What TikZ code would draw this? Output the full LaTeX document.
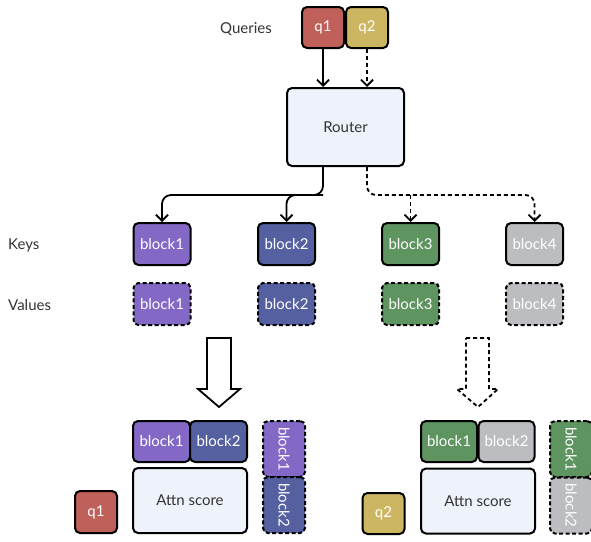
\documentclass[tikz,border=0pt]{standalone}
\usepackage{fontspec}
\setmainfont{Lato}
\usetikzlibrary{arrows.meta}
\definecolor{cq1}{HTML}{C0605A}
\definecolor{cq2}{HTML}{CDB662}
\definecolor{cb1}{HTML}{8468C6}
\definecolor{cb2}{HTML}{5560A0}
\definecolor{cb3}{HTML}{5E9460}
\definecolor{cb4}{HTML}{BBBDC0}
\definecolor{cpale}{HTML}{EEF2FB}
\definecolor{ctext}{HTML}{333333}
\tikzset{
  box/.style={draw=black, line width=2pt, rounded corners=5pt, inner sep=0pt,
    text=white, font=\fontsize{15}{17}\selectfont},
  kbox/.style={box, minimum width=57pt, minimum height=42pt},
  vbox/.style={kbox, dash pattern=on 4pt off 2.5pt},
  qbox/.style={box, minimum width=42pt, minimum height=41pt},
  palebox/.style={box, fill=cpale, text=ctext},
  rbox/.style={box, dash pattern=on 4pt off 2.5pt, minimum width=42pt, minimum height=56pt},
  lbl/.style={text=ctext, font=\fontsize{15}{17}\selectfont, inner sep=0pt},
  flow/.style={line width=1.8pt, -{Straight Barb[length=6pt, width=12pt, line width=1.8pt]}},
  dflow/.style={flow, dash pattern=on 4pt off 3pt},
  fat/.style={draw=black, line width=1.8pt, fill=white, line join=miter},
}
\begin{document}
\begin{tikzpicture}[x=1pt, y=-1pt]
\useasboundingbox (0,0) rectangle (591,541);

% queries and router
\node[lbl] (qlabel) at (246,29) {Queries};
\node[qbox, fill=cq1] (q1) at (323,27.5) {q1};
\node[qbox, fill=cq2] (q2) at (367,27.5) {q2};
\node[palebox, minimum width=117pt, minimum height=78pt] (router) at (345.5,127) {Router};
\draw[flow] (q1.south) -- (q1.south |- router.north);
\draw[dflow] (q2.south) -- (q2.south |- router.north);

% keys and values
\node[lbl, anchor=west] (keys) at (8,245) {Keys};
\node[lbl, anchor=west] (vals) at (8,305) {Values};
\node[kbox, fill=cb1] (k1) at (162,244) {block1};
\node[kbox, fill=cb2] (k2) at (286.5,244) {block2};
\node[kbox, fill=cb3] (k3) at (410.5,244) {block3};
\node[kbox, fill=cb4] (k4) at (534.5,244) {block4};
\node[vbox, fill=cb1] (v1) at (162,304) {block1};
\node[vbox, fill=cb2] (v2) at (286.5,304) {block2};
\node[vbox, fill=cb3] (v3) at (410.5,304) {block3};
\node[vbox, fill=cb4] (v4) at (534.5,304) {block4};

% routing
\coordinate (hy) at (0,195);
\draw[flow, rounded corners=9pt] (router.south -| q1) -- (q1 |- hy) -| (k1.north);
\draw[flow, rounded corners=9pt] (q1 |- hy) -| (k2.north);
\draw[dflow, rounded corners=9pt] (router.south -| q2) -- (q2 |- hy) -| (k4.north);
\draw[dflow] (k3.north |- hy) -- (k3.north);

% big down arrows
\draw[fat] (207,338) -- (231,338) -- (231,389) -- (240,389) -- (219,407) -- (198,389) -- (207,389) -- cycle;
\draw[fat, dash pattern=on 4pt off 3pt] (466,338) -- (489,338) -- (489,389) -- (498,389) -- (478,407) -- (457,389) -- (466,389) -- cycle;

% attention for q1
\node[kbox, minimum height=41pt, fill=cb1] (a1) at (161.5,441.5) {block1};
\node[kbox, minimum height=41pt, fill=cb2] (a2) at (218.5,441.5) {block2};
\node[palebox, minimum width=114pt, minimum height=65pt] (s1) at (190,500.5) {Attn score};
\node[rbox, fill=cb1] (w1) at (284,449) {\rotatebox{-90}{block1}};
\node[rbox, fill=cb2] (w2) at (284,505) {\rotatebox{-90}{block2}};
\node[qbox, minimum height=42pt, fill=cq1] (q1b) at (96,512) {q1};

% attention for q2
\node[kbox, minimum height=41pt, minimum width=56pt, fill=cb3] (b1) at (449,441.5) {block1};
\node[kbox, minimum height=41pt, minimum width=56pt, fill=cb4] (b2) at (506.5,441.5) {block2};
\node[palebox, minimum width=114pt, minimum height=65pt] (s2) at (478,501) {Attn score};
\node[rbox, fill=cb3] (x1) at (571,449) {\rotatebox{-90}{block1}};
\node[rbox, fill=cb4] (x2) at (571,505.5) {\rotatebox{-90}{block2}};
\node[qbox, fill=cq2] (q2b) at (383.5,513.5) {q2};
\end{tikzpicture}
\end{document}
